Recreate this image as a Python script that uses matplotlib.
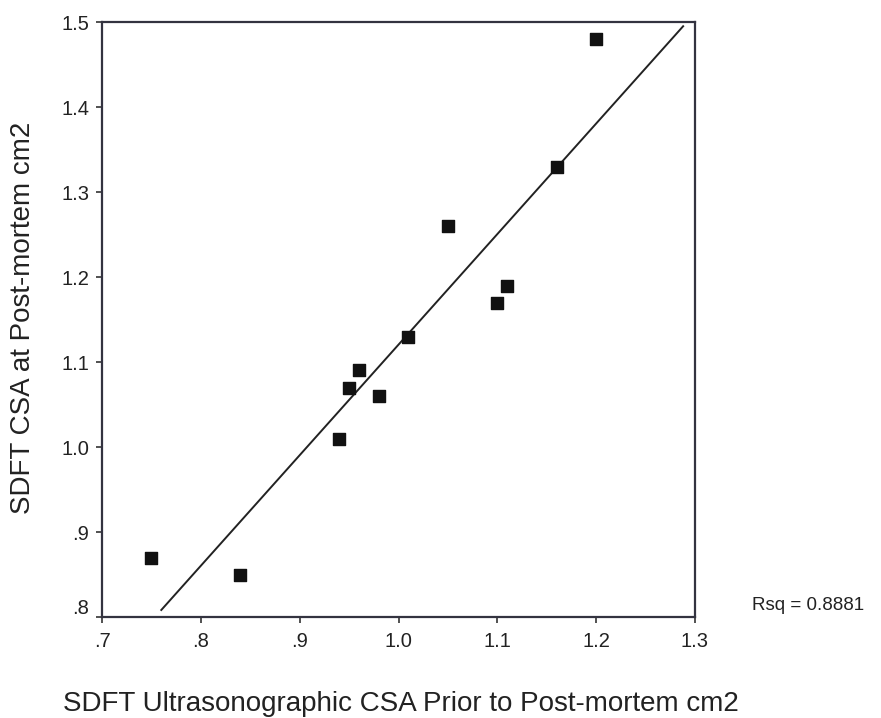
import numpy as np
import matplotlib
matplotlib.use("Agg")
import matplotlib.pyplot as plt
import matplotlib.transforms as mtransforms

# ultrasonographic CSA (x) vs post-mortem CSA (y), cm2
us_csa = [0.75, 0.84, 0.94, 0.95, 0.96, 0.98, 1.01, 1.05, 1.10, 1.11, 1.16, 1.20]
pm_csa = [0.87, 0.85, 1.01, 1.07, 1.09, 1.06, 1.13, 1.26, 1.17, 1.19, 1.33, 1.48]

x_ticks = [0.7, 0.8, 0.9, 1.0, 1.1, 1.2, 1.3]
x_tick_labels = [".7", ".8", ".9", "1.0", "1.1", "1.2", "1.3"]
y_ticks = [0.8, 0.9, 1.0, 1.1, 1.2, 1.3, 1.4, 1.5]
y_tick_labels = [".8", ".9", "1.0", "1.1", "1.2", "1.3", "1.4", "1.5"]
fit_range = [0.76, 1.288]

plt.rcParams["font.family"] = ["Liberation Sans", "DejaVu Sans"]

fig = plt.figure(figsize=(8.81, 7.18), dpi=100)
ax = fig.add_axes([102 / 881, 1 - 617 / 718, 593 / 881, 595 / 718])

ax.scatter(us_csa, pm_csa, marker="s", s=75, color="#111111", zorder=3)

slope, intercept = np.polyfit(us_csa, pm_csa, 1)
xs = np.array(fit_range)
ax.plot(xs, slope * xs + intercept, color="#222222", linewidth=1.4)

ax.set_xlim(0.7, 1.3)
ax.set_ylim(0.8, 1.5)
ax.set_xticks(x_ticks)
ax.set_xticklabels(x_tick_labels)
ax.set_yticks(y_ticks)
ax.set_yticklabels(y_tick_labels)
ax.tick_params(labelsize=14.5, length=4, width=1.2, color="#333333",
               labelcolor="#222222")
ax.tick_params(axis="x", pad=7)
ax.tick_params(axis="y", pad=5)

# SPSS draws the lowest y label a little above the axis line
lab = ax.get_yticklabels()[0]
lab.set_transform(lab.get_transform() +
                  mtransforms.ScaledTranslation(0, 0.11, fig.dpi_scale_trans))

for sp in ax.spines.values():
    sp.set_linewidth(1.6)
    sp.set_color("#333340")

fig.text(401 / 881, 1 - 704 / 718, "SDFT Ultrasonographic CSA Prior to Post-mortem cm2",
         ha="center", va="center", fontsize=20, color="#222222")
fig.text(23 / 881, 1 - 318 / 718, "SDFT CSA at Post-mortem cm2", rotation=90,
         ha="center", va="center", fontsize=20, color="#222222")
fig.text(752 / 881, 1 - 605 / 718, "Rsq = 0.8881", ha="left", va="center",
         fontsize=13.5, color="#222222")

fig.savefig("out.png", dpi=100)
